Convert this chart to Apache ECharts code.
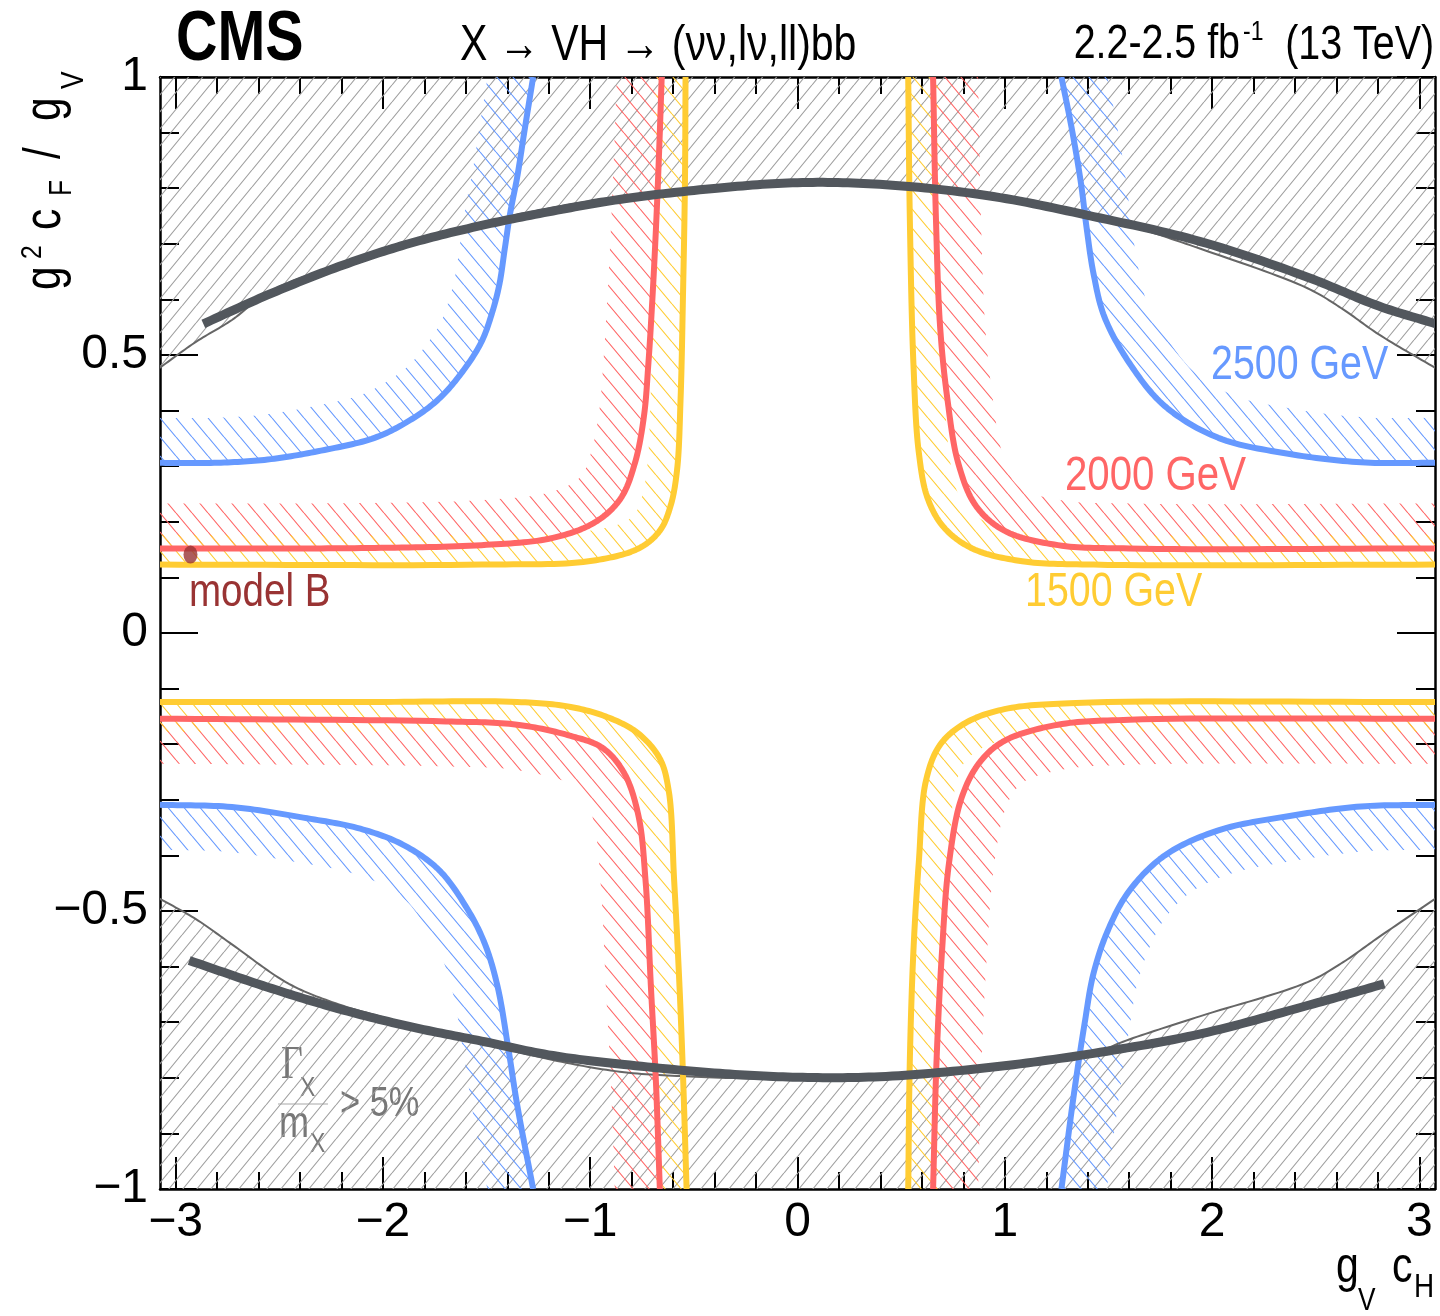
<!DOCTYPE html>
<html><head><meta charset="utf-8">
<script src="https://cdn.jsdelivr.net/npm/echarts@6/dist/echarts.min.js"></script>
<style>html,body{margin:0;padding:0;background:#fff}#chart{width:1440px;height:1316px}</style>
</head><body><div id="chart"></div>
<script>
const FONT = '"Liberation Sans Narrow","Liberation Sans",Arial,sans-serif';
const NARROW = 0.82;

// ---- axes ----
const xExtent = [-3.075, 3.075];
const yExtent = [-1, 1];
const xMajorTicks = [-3, -2, -1, 0, 1, 2, 3];
const xMinorTicks = [-2.8,-2.6,-2.4,-2.2,-1.8,-1.6,-1.4,-1.2,-0.8,-0.6,-0.4,-0.2,0.2,0.4,0.6,0.8,1.2,1.4,1.6,1.8,2.2,2.4,2.6,2.8];

// ---- 2500 GeV contour (blue) ----
const blueUL = [[-1.275,1.0],[-1.317,0.903],[-1.352,0.820],[-1.386,0.755],[-1.412,0.691],[-1.438,0.627],[-1.473,0.576],[-1.524,0.524],[-1.610,0.473],[-1.730,0.421],[-1.868,0.383],[-2.040,0.351],[-2.298,0.328],[-2.556,0.312],[-2.814,0.306],[-3.08,0.306]];
const blueUR = [[1.273,1.0],[1.325,0.903],[1.368,0.807],[1.394,0.730],[1.428,0.646],[1.480,0.569],[1.600,0.486],[1.772,0.408],[2.030,0.351],[2.374,0.322],[2.718,0.307],[3.08,0.306]];
const blueLL = [[-3.08,-0.309],[-2.728,-0.313],[-2.384,-0.332],[-2.109,-0.352],[-1.902,-0.381],[-1.730,-0.426],[-1.593,-0.496],[-1.507,-0.560],[-1.446,-0.637],[-1.395,-0.747],[-1.352,-0.849],[-1.275,-1.0]];
const blueLR = [[1.273,-1.0],[1.333,-0.830],[1.385,-0.702],[1.428,-0.612],[1.497,-0.535],[1.600,-0.464],[1.772,-0.400],[2.030,-0.355],[2.374,-0.329],[2.718,-0.312],[3.08,-0.309]];

// ---- 2000 GeV contour (red) ----
const redUL = [[-0.655,1.0],[-0.667,0.871],[-0.681,0.742],[-0.698,0.614],[-0.719,0.486],[-0.741,0.389],[-0.784,0.306],[-0.853,0.242],[-0.973,0.200],[-1.180,0.171],[-1.524,0.158],[-2.040,0.153],[-2.556,0.152],[-3.08,0.152]];
const redUR = [[0.654,1.0],[0.668,0.742],[0.688,0.550],[0.723,0.421],[0.775,0.306],[0.860,0.229],[0.998,0.184],[1.256,0.158],[1.600,0.152],[3.08,0.152]];
const redLL = [[-3.08,-0.154],[-1.696,-0.159],[-1.352,-0.165],[-1.094,-0.185],[-0.939,-0.207],[-0.836,-0.252],[-0.767,-0.329],[-0.733,-0.445],[-0.707,-0.637],[-0.684,-0.798],[-0.664,-1.0]];
const redLR = [[0.654,-1.0],[0.671,-0.766],[0.697,-0.573],[0.731,-0.413],[0.791,-0.297],[0.878,-0.233],[0.998,-0.194],[1.256,-0.165],[1.600,-0.156],[3.08,-0.154]];

// ---- 1500 GeV contour (yellow) ----
const yellowUL = [[-0.540,1.0],[-0.543,0.807],[-0.552,0.614],[-0.564,0.421],[-0.581,0.293],[-0.612,0.229],[-0.664,0.184],[-0.767,0.152],[-1.008,0.129],[-1.524,0.123],[-3.08,0.123]];
const yellowUR = [[0.534,1.0],[0.542,0.742],[0.559,0.486],[0.585,0.325],[0.628,0.242],[0.706,0.190],[0.843,0.152],[1.084,0.129],[1.428,0.123],[3.08,0.123]];
const yellowLL = [[-3.08,-0.124],[-2.040,-0.124],[-1.352,-0.124],[-1.094,-0.133],[-0.905,-0.153],[-0.767,-0.181],[-0.664,-0.226],[-0.621,-0.284],[-0.595,-0.445],[-0.569,-0.637],[-0.552,-0.798],[-0.535,-1.0]];
const yellowLR = [[0.534,-1.0],[0.542,-0.766],[0.559,-0.573],[0.585,-0.413],[0.620,-0.265],[0.688,-0.201],[0.809,-0.162],[0.998,-0.137],[1.342,-0.126],[3.08,-0.124]];

// ---- model curve (thick dark grey) ----
const modelTop = [[-2.866,0.556],[-2.556,0.608],[-2.212,0.659],[-1.868,0.701],[-1.524,0.733],[-1.180,0.759],[-0.836,0.781],[-0.389,0.800],[0.0,0.810],[0.396,0.807],[0.912,0.787],[1.428,0.749],[1.944,0.704],[2.460,0.640],[2.804,0.588],[3.08,0.556]];
const modelBottom = [[-2.934,-0.589],[-2.556,-0.637],[-2.212,-0.676],[-1.868,-0.708],[-1.524,-0.734],[-1.180,-0.760],[-0.836,-0.776],[-0.375,-0.792],[0.0,-0.799],[0.396,-0.798],[0.912,-0.782],[1.428,-0.756],[1.944,-0.721],[2.460,-0.670],[2.830,-0.631]];

// ---- width boundary Gamma/m = 5% (thin grey) ----
const widthTop = [[-3.08,0.476],[-2.900,0.524],[-2.728,0.563],[-2.556,0.612],[-2.212,0.663],[-1.868,0.705],[-1.524,0.738],[-1.180,0.765],[-0.836,0.786],[-0.389,0.804],[0.0,0.813],[0.396,0.810],[0.912,0.789],[1.428,0.749],[1.600,0.733],[1.944,0.691],[2.460,0.620],[2.632,0.582],[2.804,0.537],[3.08,0.476]];
const widthBottom = [[-3.08,-0.477],[-2.900,-0.515],[-2.728,-0.560],[-2.453,-0.631],[-2.212,-0.668],[-1.868,-0.704],[-1.524,-0.737],[-1.180,-0.768],[-0.836,-0.790],[-0.492,-0.798],[0.0,-0.803],[0.396,-0.801],[0.912,-0.785],[1.377,-0.762],[1.600,-0.731],[1.944,-0.689],[2.460,-0.628],[2.632,-0.592],[2.804,-0.547],[3.08,-0.477]];

// ---- benchmark point ----
const modelB = [[-2.928, 0.141]];

const BLUE = '#6699ff', RED = '#ff6666', YEL = '#ffcc33', DARK = '#52575d', THIN = '#666666';

function hatch(color, w, h, dir, lw) {
  const c = document.createElement('canvas'); c.width = w; c.height = h;
  const g = c.getContext('2d'); g.strokeStyle = color; g.lineWidth = lw;
  g.beginPath();
  for (const dx of [-w, 0, w]) {
    if (dir === '/') { g.moveTo(dx, h); g.lineTo(dx + w, 0); }
    else { g.moveTo(dx, 0); g.lineTo(dx + w, h); }
  }
  g.stroke();
  return c;
}
const patGrey = hatch('#9f9f9f', 14, 17, '/', 1.1);
const patBlue = hatch(BLUE, 16, 19, '\\', 1.1);
const patRed = hatch(RED, 16, 19, '\\', 1.1);
const patYel = hatch(YEL, 16, 19, '\\', 1.1);

function crDense(P, n) {
  const pts = P.map(p => [p[0], p[1]]);
  const m = pts.length;
  if (m < 3) return pts;
  const first = [2*pts[0][0]-pts[1][0], 2*pts[0][1]-pts[1][1]];
  const last = [2*pts[m-1][0]-pts[m-2][0], 2*pts[m-1][1]-pts[m-2][1]];
  const Q = [first].concat(pts, [last]);
  const tj = (a, b, t) => t + Math.max(Math.sqrt(Math.hypot(b[0]-a[0], b[1]-a[1])), 1e-4);
  const out = [];
  for (let i = 1; i < Q.length - 2; i++) {
    const p0 = Q[i-1], p1 = Q[i], p2 = Q[i+1], p3 = Q[i+2];
    const t0 = 0, t1 = tj(p0,p1,t0), t2 = tj(p1,p2,t1), t3 = tj(p2,p3,t2);
    for (let k = 0; k < n; k++) {
      const t = t1 + (t2 - t1) * k / n;
      const L = (a, b, ta, tb) => [((tb-t)*a[0] + (t-ta)*b[0])/(tb-ta), ((tb-t)*a[1] + (t-ta)*b[1])/(tb-ta)];
      const A1 = L(p0,p1,t0,t1), A2 = L(p1,p2,t1,t2), A3 = L(p2,p3,t2,t3);
      const B1 = L(A1,A2,t0,t2), B2 = L(A2,A3,t1,t3);
      out.push(L(B1,B2,t1,t2));
    }
  }
  out.push(pts[m-1]);
  return out;
}

function curveSeries(pts, kind, opt) {
  return {
    type: 'custom', clip: true, silent: true, z: opt.z, xAxisIndex: 0, yAxisIndex: 0,
    data: pts,
    renderItem: function (params, api) {
      if (params.dataIndex !== 0) return null;
      const dense = crDense(pts.map(p => api.coord(p)), 16);
      if (kind === 'line') {
        return { type: 'polyline', shape: { points: dense },
          style: { stroke: opt.color, lineWidth: opt.width, fill: null, lineJoin: 'round', lineCap: 'butt' } };
      }
      if (kind === 'band') {
        const o = api.coord([0, 0]);
        const W = opt.width;
        const off = dense.map((p, i) => {
          const a = dense[Math.max(i-1, 0)], b = dense[Math.min(i+1, dense.length-1)];
          let tx = b[0]-a[0], ty = b[1]-a[1]; const len = Math.hypot(tx, ty) || 1; tx /= len; ty /= len;
          let nx = -ty, ny = tx;
          if (nx*(p[0]-o[0]) + ny*(p[1]-o[1]) < 0) { nx = -nx; ny = -ny; }
          return [p[0] + nx*W, p[1] + ny*W];
        });
        return { type: 'polygon', shape: { points: dense.concat(off.reverse()) },
          style: { fill: { image: opt.pattern, repeat: 'repeat' }, stroke: null } };
      }
      const a = api.coord([xExtent[1] + 0.3, opt.edge]), b = api.coord([xExtent[0] - 0.3, opt.edge]);
      return { type: 'polygon', shape: { points: dense.concat([a, b]) },
        style: { fill: { image: opt.pattern, repeat: 'repeat' }, stroke: null } };
    }
  };
}

const series = [];
series.push(curveSeries(widthTop, 'region', { z: 1, edge: 1.2, pattern: patGrey }));
series.push(curveSeries(widthBottom, 'region', { z: 1, edge: -1.2, pattern: patGrey }));
const colored = [
  [blueUL, BLUE, patBlue, 45], [blueUR, BLUE, patBlue, 45], [blueLL, BLUE, patBlue, 45], [blueLR, BLUE, patBlue, 45],
  [redUL, RED, patRed, 45], [redUR, RED, patRed, 45], [redLL, RED, patRed, 45], [redLR, RED, patRed, 45],
  [yellowUL, YEL, patYel, 30], [yellowUR, YEL, patYel, 30], [yellowLL, YEL, patYel, 30], [yellowLR, YEL, patYel, 30]
];
colored.forEach(c => series.push(curveSeries(c[0], 'band', { z: 2, pattern: c[2], width: c[3] })));
series.push(curveSeries(widthTop, 'line', { z: 3, color: THIN, width: 2 }));
series.push(curveSeries(widthBottom, 'line', { z: 3, color: THIN, width: 2 }));
colored.forEach(c => series.push(curveSeries(c[0], 'line', { z: 4, color: c[1], width: 6 })));
series.push(curveSeries(modelTop, 'line', { z: 5, color: DARK, width: 9 }));
series.push(curveSeries(modelBottom, 'line', { z: 5, color: DARK, width: 9 }));
series.push({ type: 'scatter', data: modelB, symbol: 'circle', symbolSize: [14, 18], z: 6, silent: true,
  itemStyle: { color: '#993333' } });

const minus = v => (v < 0 ? '\u2212' + Math.abs(v) : String(v));
const tickStyle = { color: '#000', width: 2 };
const axisLineStyle = { color: '#000', width: 2.5 };

function xAx(position, values, len, withLine, withLabel) {
  return {
    type: 'value', position, min: xExtent[0], max: xExtent[1],
    axisLine: { show: withLine, onZero: false, lineStyle: axisLineStyle },
    axisTick: { show: true, inside: true, length: len, customValues: values, lineStyle: tickStyle },
    axisLabel: withLabel ? { show: true, customValues: values, formatter: minus, fontSize: 48, fontFamily: FONT, color: '#000', margin: 10 } : { show: false },
    splitLine: { show: false }, minorTick: { show: false }
  };
}
function yAx(position, withLabel) {
  return {
    type: 'value', position, min: yExtent[0], max: yExtent[1], interval: 0.5,
    axisLine: { show: true, onZero: false, lineStyle: axisLineStyle },
    axisTick: { show: true, inside: true, length: 38, lineStyle: tickStyle },
    minorTick: { show: true, splitNumber: 5, length: 19, lineStyle: tickStyle },
    axisLabel: withLabel ? { show: true, formatter: minus, fontSize: 48, fontFamily: FONT, color: '#000', margin: 12 } : { show: false },
    splitLine: { show: false }
  };
}

const T = (text, x, y, size, color, extra) => Object.assign({ type: 'text', x, y, scaleX: NARROW, silent: true,
  style: Object.assign({ text, fontSize: size, fontFamily: FONT, fill: color || '#000', align: 'left', verticalAlign: 'middle' }, extra || {}) });

const graphics = [
  T('CMS', 176, 41, 70, '#000', { fontWeight: 'bold' }),
  T('X \u2192 VH \u2192 (\u03bd\u03bd,l\u03bd,ll)bb', 460, 46, 50),
  T('2.2-2.5 fb', 1240, 45, 48, '#000', { align: 'right' }),
  T('-1', 1243, 32, 28),
  T('(13 TeV)', 1434, 46, 48, '#000', { align: 'right' }),
  T('2500 GeV', 1211, 366, 48, BLUE),
  T('2000 GeV', 1065, 476, 49, RED),
  T('1500 GeV', 1025, 593, 48, YEL),
  T('model B', 189, 593, 47, '#993333'),
  // Gamma_X / m_X > 5%
  T('\u0393', 281, 1066, 46, '#777', { fontFamily: '"Liberation Serif","DejaVu Serif",serif' }),
  T('X', 300, 1088, 28, '#777'),
  { type: 'line', silent: true, shape: { x1: 278, y1: 1104, x2: 328, y2: 1104 }, style: { stroke: '#c4c4c4', lineWidth: 1.5 } },
  T('m', 279, 1125, 44, '#777'),
  T('X', 310, 1144, 28, '#777'),
  T('> 5%', 340, 1104, 42, '#777'),
  // x axis title
  T('g', 1336, 1268, 50),
  T('V', 1358, 1301, 32),
  T('c', 1392, 1268, 50),
  T('H', 1414, 1288, 34),
  // y axis title (rotated)
  { type: 'group', x: 50, y: 292, rotation: Math.PI / 2, children: [
    T('g', 2, -4, 52),
    T('2', 33, -17, 30),
    T('c', 62, -4, 52),
    T('F', 96, 12, 32),
    T('/', 133, -4, 52),
    T('g', 171, -4, 52),
    T('V', 203, 24, 32)
  ] }
];

const chart = echarts.init(document.getElementById('chart'), null, { renderer: 'canvas' });
chart.setOption({
  animation: false,
  backgroundColor: '#fff',
  grid: { left: 160, right: 5, top: 77, bottom: 127, containLabel: false, outerBoundsMode: 'none' },
  xAxis: [
    xAx('bottom', xMajorTicks, 32, true, true),
    xAx('bottom', xMinorTicks, 17, false, false),
    xAx('top', xMajorTicks, 32, true, false),
    xAx('top', xMinorTicks, 17, false, false)
  ],
  yAxis: [yAx('left', true), yAx('right', false)],
  series,
  graphic: { elements: graphics }
});
</script></body></html>
